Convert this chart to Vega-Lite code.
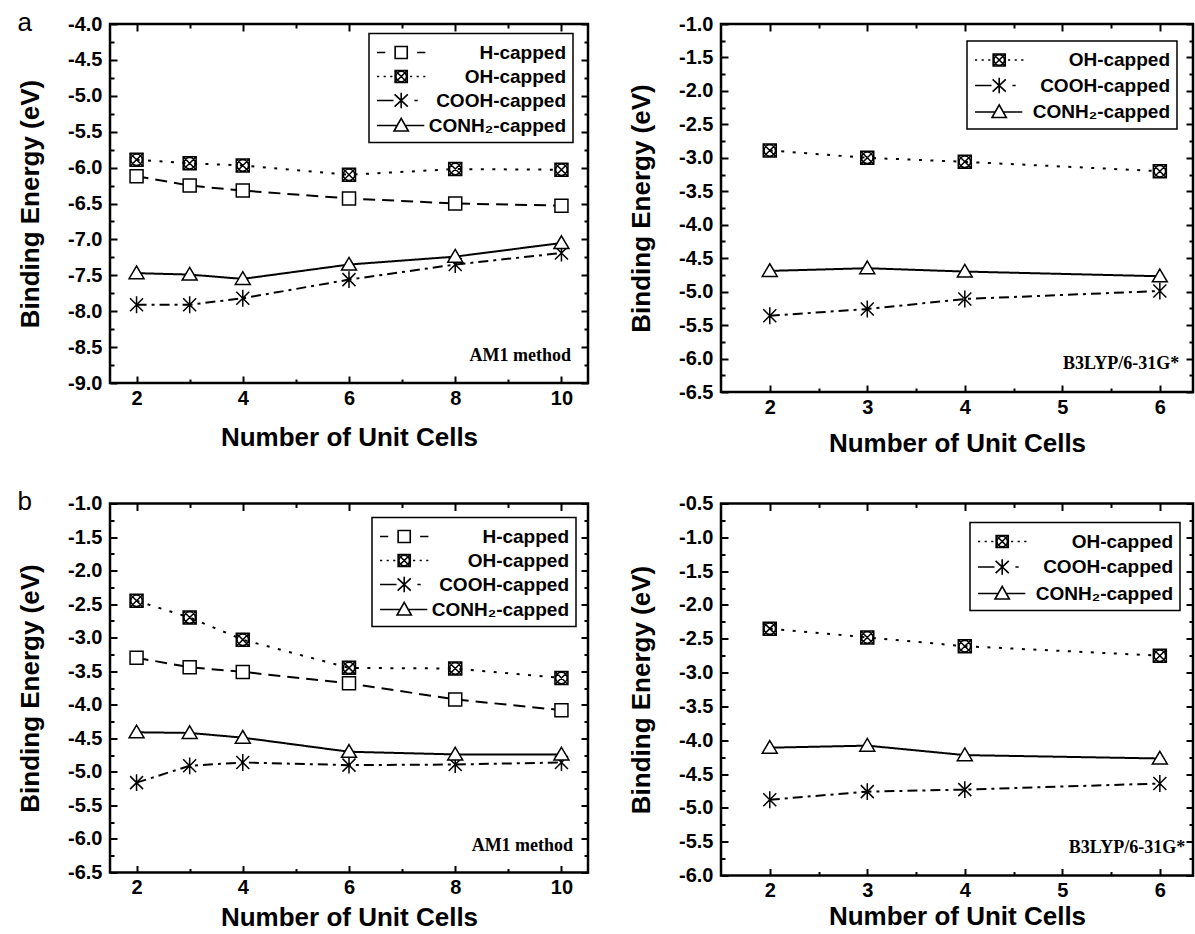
{
  "$schema": "https://vega.github.io/schema/vega-lite/v6.json",
  "background": "white",
  "padding": {"left": 16, "top": 8, "right": 0, "bottom": 0},
  "datasets": {
    "d": [
      {"panel": "a1", "series": "H-capped", "n": 2, "e": -6.12},
      {"panel": "a1", "series": "H-capped", "n": 3, "e": -6.25},
      {"panel": "a1", "series": "H-capped", "n": 4, "e": -6.32},
      {"panel": "a1", "series": "H-capped", "n": 6, "e": -6.43},
      {"panel": "a1", "series": "H-capped", "n": 8, "e": -6.50},
      {"panel": "a1", "series": "H-capped", "n": 10, "e": -6.53},
      {"panel": "a1", "series": "OH-capped", "n": 2, "e": -5.89},
      {"panel": "a1", "series": "OH-capped", "n": 3, "e": -5.94},
      {"panel": "a1", "series": "OH-capped", "n": 4, "e": -5.97},
      {"panel": "a1", "series": "OH-capped", "n": 6, "e": -6.10},
      {"panel": "a1", "series": "OH-capped", "n": 8, "e": -6.02},
      {"panel": "a1", "series": "OH-capped", "n": 10, "e": -6.03},
      {"panel": "a1", "series": "COOH-capped", "n": 2, "e": -7.91},
      {"panel": "a1", "series": "COOH-capped", "n": 3, "e": -7.91},
      {"panel": "a1", "series": "COOH-capped", "n": 4, "e": -7.82},
      {"panel": "a1", "series": "COOH-capped", "n": 6, "e": -7.56},
      {"panel": "a1", "series": "COOH-capped", "n": 8, "e": -7.35},
      {"panel": "a1", "series": "COOH-capped", "n": 10, "e": -7.19},
      {"panel": "a1", "series": "CONH₂-capped", "n": 2, "e": -7.47},
      {"panel": "a1", "series": "CONH₂-capped", "n": 3, "e": -7.49},
      {"panel": "a1", "series": "CONH₂-capped", "n": 4, "e": -7.55},
      {"panel": "a1", "series": "CONH₂-capped", "n": 6, "e": -7.35},
      {"panel": "a1", "series": "CONH₂-capped", "n": 8, "e": -7.24},
      {"panel": "a1", "series": "CONH₂-capped", "n": 10, "e": -7.05},
      {"panel": "a2", "series": "OH-capped", "n": 2, "e": -2.89},
      {"panel": "a2", "series": "OH-capped", "n": 3, "e": -3.00},
      {"panel": "a2", "series": "OH-capped", "n": 4, "e": -3.06},
      {"panel": "a2", "series": "OH-capped", "n": 6, "e": -3.20},
      {"panel": "a2", "series": "COOH-capped", "n": 2, "e": -5.36},
      {"panel": "a2", "series": "COOH-capped", "n": 3, "e": -5.26},
      {"panel": "a2", "series": "COOH-capped", "n": 4, "e": -5.11},
      {"panel": "a2", "series": "COOH-capped", "n": 6, "e": -4.99},
      {"panel": "a2", "series": "CONH₂-capped", "n": 2, "e": -4.69},
      {"panel": "a2", "series": "CONH₂-capped", "n": 3, "e": -4.65},
      {"panel": "a2", "series": "CONH₂-capped", "n": 4, "e": -4.70},
      {"panel": "a2", "series": "CONH₂-capped", "n": 6, "e": -4.77},
      {"panel": "b1", "series": "H-capped", "n": 2, "e": -3.30},
      {"panel": "b1", "series": "H-capped", "n": 3, "e": -3.44},
      {"panel": "b1", "series": "H-capped", "n": 4, "e": -3.51},
      {"panel": "b1", "series": "H-capped", "n": 6, "e": -3.68},
      {"panel": "b1", "series": "H-capped", "n": 8, "e": -3.92},
      {"panel": "b1", "series": "H-capped", "n": 10, "e": -4.08},
      {"panel": "b1", "series": "OH-capped", "n": 2, "e": -2.45},
      {"panel": "b1", "series": "OH-capped", "n": 3, "e": -2.70},
      {"panel": "b1", "series": "OH-capped", "n": 4, "e": -3.03},
      {"panel": "b1", "series": "OH-capped", "n": 6, "e": -3.45},
      {"panel": "b1", "series": "OH-capped", "n": 8, "e": -3.46},
      {"panel": "b1", "series": "OH-capped", "n": 10, "e": -3.60},
      {"panel": "b1", "series": "COOH-capped", "n": 2, "e": -5.16},
      {"panel": "b1", "series": "COOH-capped", "n": 3, "e": -4.91},
      {"panel": "b1", "series": "COOH-capped", "n": 4, "e": -4.86},
      {"panel": "b1", "series": "COOH-capped", "n": 6, "e": -4.90},
      {"panel": "b1", "series": "COOH-capped", "n": 8, "e": -4.89},
      {"panel": "b1", "series": "COOH-capped", "n": 10, "e": -4.86},
      {"panel": "b1", "series": "CONH₂-capped", "n": 2, "e": -4.41},
      {"panel": "b1", "series": "CONH₂-capped", "n": 3, "e": -4.42},
      {"panel": "b1", "series": "CONH₂-capped", "n": 4, "e": -4.49},
      {"panel": "b1", "series": "CONH₂-capped", "n": 6, "e": -4.70},
      {"panel": "b1", "series": "CONH₂-capped", "n": 8, "e": -4.74},
      {"panel": "b1", "series": "CONH₂-capped", "n": 10, "e": -4.74},
      {"panel": "b2", "series": "OH-capped", "n": 2, "e": -2.35},
      {"panel": "b2", "series": "OH-capped", "n": 3, "e": -2.48},
      {"panel": "b2", "series": "OH-capped", "n": 4, "e": -2.61},
      {"panel": "b2", "series": "OH-capped", "n": 6, "e": -2.75},
      {"panel": "b2", "series": "COOH-capped", "n": 2, "e": -4.88},
      {"panel": "b2", "series": "COOH-capped", "n": 3, "e": -4.76},
      {"panel": "b2", "series": "COOH-capped", "n": 4, "e": -4.73},
      {"panel": "b2", "series": "COOH-capped", "n": 6, "e": -4.64},
      {"panel": "b2", "series": "CONH₂-capped", "n": 2, "e": -4.11},
      {"panel": "b2", "series": "CONH₂-capped", "n": 3, "e": -4.08},
      {"panel": "b2", "series": "CONH₂-capped", "n": 4, "e": -4.22},
      {"panel": "b2", "series": "CONH₂-capped", "n": 6, "e": -4.27}
    ]
  },
  "data": {"name": "d"},
  "spacing": 29.5,
  "vconcat": [
    {
      "columns": 2,
      "align": "none",
      "spacing": 36,
      "concat": [
        {
          "width": 478, "height": 359,
          "title": {"text": "a", "anchor": "start", "frame": "bounds", "orient": "top", "offset": -26.5, "dy": 16, "baseline": "alphabetic", "fontSize": 26, "fontWeight": "normal", "font": "Liberation Sans", "color": "black"},
          "transform": [{"filter": "datum.panel == 'a1'"}],
          "layer": [
            {"mark": {"type": "line", "stroke": "black", "strokeWidth": 2},
             "encoding": {
               "x": {"field": "n", "type": "quantitative", "scale": {"domain": [1.5, 10.5], "nice": false, "zero": false},
                     "axis": {"orient": "bottom", "title": "Number of Unit Cells", "labelPadding": 12, "titlePadding": 13, "values": [2,3,4,5,6,7,8,9,10], "labelExpr": "datum.value % 2 == 0 ? datum.label : ''", "tickSize": {"condition": {"test": "datum.value % 2 == 0", "value": -7}, "value": -4}}},
               "y": {"field": "e", "type": "quantitative", "scale": {"domain": [-9, -4], "nice": false, "zero": false},
                     "axis": {"orient": "left", "title": "Binding Energy (eV)", "titlePadding": 24, "values": [-9,-8.75,-8.5,-8.25,-8,-7.75,-7.5,-7.25,-7,-6.75,-6.5,-6.25,-6,-5.75,-5.5,-5.25,-5,-4.75,-4.5,-4.25,-4], "labelExpr": "abs(datum.value*2 - round(datum.value*2)) < 0.001 ? replace(format(datum.value, '.1f'), '\u2212', '-') : ''", "tickSize": {"condition": {"test": "abs(datum.value*2 - round(datum.value*2)) < 0.001", "value": -7}, "value": -4}}},
               "strokeDash": {"field": "series", "type": "nominal", "scale": {"domain": ["H-capped", "OH-capped", "COOH-capped", "CONH₂-capped"], "range": [[12,7],[3,8.5],[10,5,3,5],[1,0]]}, "legend": null}
             }},
            {"mark": {"type": "point", "filled": true, "fill": "white", "stroke": "black", "strokeWidth": 1.5, "size": 169, "opacity": 1},
             "encoding": {
               "x": {"field": "n", "type": "quantitative", "axis": {"orient": "top", "labels": false, "title": null, "values": [2,3,4,5,6,7,8,9,10], "tickSize": {"condition": {"test": "datum.value % 2 == 0", "value": -7}, "value": -4}}},
               "y": {"field": "e", "type": "quantitative", "axis": {"orient": "right", "labels": false, "title": null, "values": [-9,-8.75,-8.5,-8.25,-8,-7.75,-7.5,-7.25,-7,-6.75,-6.5,-6.25,-6,-5.75,-5.5,-5.25,-5,-4.75,-4.5,-4.25,-4], "tickSize": {"condition": {"test": "abs(datum.value*2 - round(datum.value*2)) < 0.001", "value": -7}, "value": -4}}},
               "shape": {"field": "series", "type": "nominal", "scale": {"domain": ["H-capped", "OH-capped", "COOH-capped", "CONH₂-capped"], "range": ["M-1,-1H1V1H-1Z", "M-1,-1H1V1H-1ZM-1,-1L1,1M1,-1L-1,1M-0.88,0A0.88,0.88,0,1,0,0.88,0A0.88,0.88,0,1,0,-0.88,0", "M-1,-1L1,1M1,-1L-1,1M0,-1.3V1.3", "M0,-1.1L1.15,0.85H-1.15Z"]}, "legend": null}
             }},
            {"transform": [{"filter": "false"}],
             "mark": {"type": "point", "filled": false, "color": "black", "stroke": "black", "strokeWidth": 1.6, "size": 484, "opacity": 1},
             "encoding": {
               "x": {"field": "n", "type": "quantitative", "axis": null},
               "y": {"field": "e", "type": "quantitative", "axis": null},
               "shape": {"field": "series", "type": "nominal", "scale": {"domain": ["H-capped", "OH-capped", "COOH-capped", "CONH₂-capped"], "range": ["M-1,0H-0.25M0.65,-0.55H1.75V0.55H0.65ZM2.65,0H3.4", "M-1,0H-0.8M-0.4,0H-0.2M0.2,0H0.4M0.65,-0.55H1.75V0.55H0.65ZM0.65,-0.55L1.75,0.55M1.75,-0.55L0.65,0.55M0.72,0A0.48,0.48,0,1,0,1.68,0A0.48,0.48,0,1,0,0.72,0M2,0H2.2M2.6,0H2.8M3.2,0H3.4", "M-1,0H0.5M0.6,-0.55L1.8,0.55M1.8,-0.55L0.6,0.55M1.2,-0.7V0.7M2.4,0H2.7", "M-1,0H0.83M1.57,0H3.3M1.2,-0.65L1.85,0.5H0.55Z"]},
                         "legend": {"orient": "none", "legendX": 259, "legendY": 9.5, "title": null, "labelAlign": "right", "labelOffset": 166}}
             }},
            {"data": {"values": [{}]},
             "mark": {"type": "text", "text": "AM1 method", "font": "Liberation Serif", "fontWeight": "bold", "fontSize": 18, "align": "right", "baseline": "middle", "color": "black"},
             "encoding": {"x": {"datum": 10.18, "type": "quantitative", "axis": null}, "y": {"datum": -8.62, "type": "quantitative", "axis": null}}}
          ],
          "resolve": {"scale": {"shape": "independent"}, "axis": {"x": "independent", "y": "independent"}}
        },
        {
          "width": 472, "height": 368,
          "transform": [{"filter": "datum.panel == 'a2'"}],
          "layer": [
            {"mark": {"type": "line", "stroke": "black", "strokeWidth": 2},
             "encoding": {
               "x": {"field": "n", "type": "quantitative", "scale": {"domain": [1.5, 6.34], "nice": false, "zero": false},
                     "axis": {"orient": "bottom", "title": "Number of Unit Cells", "labelPadding": 12, "titlePadding": 10, "values": [2,2.5,3,3.5,4,4.5,5,5.5,6], "labelExpr": "datum.value % 1 == 0 ? format(datum.value, 'd') : ''", "tickSize": {"condition": {"test": "datum.value % 1 == 0", "value": -7}, "value": -4}}},
               "y": {"field": "e", "type": "quantitative", "scale": {"domain": [-6.5, -1], "nice": false, "zero": false},
                     "axis": {"orient": "left", "title": "Binding Energy (eV)", "titlePadding": 24, "values": [-6.5,-6.25,-6,-5.75,-5.5,-5.25,-5,-4.75,-4.5,-4.25,-4,-3.75,-3.5,-3.25,-3,-2.75,-2.5,-2.25,-2,-1.75,-1.5,-1.25,-1], "labelExpr": "abs(datum.value*2 - round(datum.value*2)) < 0.001 ? replace(format(datum.value, '.1f'), '\u2212', '-') : ''", "tickSize": {"condition": {"test": "abs(datum.value*2 - round(datum.value*2)) < 0.001", "value": -7}, "value": -4}}},
               "strokeDash": {"field": "series", "type": "nominal", "scale": {"domain": ["OH-capped", "COOH-capped", "CONH₂-capped"], "range": [[3,8.5],[10,5,3,5],[1,0]]}, "legend": null}
             }},
            {"mark": {"type": "point", "filled": true, "fill": "white", "stroke": "black", "strokeWidth": 1.5, "size": 169, "opacity": 1},
             "encoding": {
               "x": {"field": "n", "type": "quantitative", "axis": {"orient": "top", "labels": false, "title": null, "values": [2,2.5,3,3.5,4,4.5,5,5.5,6], "tickSize": {"condition": {"test": "datum.value % 1 == 0", "value": -7}, "value": -4}}},
               "y": {"field": "e", "type": "quantitative", "axis": {"orient": "right", "labels": false, "title": null, "values": [-6.5,-6.25,-6,-5.75,-5.5,-5.25,-5,-4.75,-4.5,-4.25,-4,-3.75,-3.5,-3.25,-3,-2.75,-2.5,-2.25,-2,-1.75,-1.5,-1.25,-1], "tickSize": {"condition": {"test": "abs(datum.value*2 - round(datum.value*2)) < 0.001", "value": -7}, "value": -4}}},
               "shape": {"field": "series", "type": "nominal", "scale": {"domain": ["OH-capped", "COOH-capped", "CONH₂-capped"], "range": ["M-1,-1H1V1H-1ZM-1,-1L1,1M1,-1L-1,1M-0.88,0A0.88,0.88,0,1,0,0.88,0A0.88,0.88,0,1,0,-0.88,0", "M-1,-1L1,1M1,-1L-1,1M0,-1.3V1.3", "M0,-1.1L1.15,0.85H-1.15Z"]}, "legend": null}
             }},
            {"transform": [{"filter": "false"}],
             "mark": {"type": "point", "filled": false, "color": "black", "stroke": "black", "strokeWidth": 1.6, "size": 484, "opacity": 1},
             "encoding": {
               "x": {"field": "n", "type": "quantitative", "axis": null},
               "y": {"field": "e", "type": "quantitative", "axis": null},
               "shape": {"field": "series", "type": "nominal", "scale": {"domain": ["OH-capped", "COOH-capped", "CONH₂-capped"], "range": ["M-1,0H-0.8M-0.4,0H-0.2M0.2,0H0.4M0.65,-0.55H1.75V0.55H0.65ZM0.65,-0.55L1.75,0.55M1.75,-0.55L0.65,0.55M0.72,0A0.48,0.48,0,1,0,1.68,0A0.48,0.48,0,1,0,0.72,0M2,0H2.2M2.6,0H2.8M3.2,0H3.4", "M-1,0H0.5M0.6,-0.55L1.8,0.55M1.8,-0.55L0.6,0.55M1.2,-0.7V0.7M2.4,0H2.7", "M-1,0H0.83M1.57,0H3.3M1.2,-0.65L1.85,0.5H0.55Z"]},
                         "legend": {"orient": "none", "legendX": 246, "legendY": 17, "rowPadding": 3.5, "title": null, "labelAlign": "right", "labelOffset": 172}}
             }},
            {"data": {"values": [{}]},
             "mark": {"type": "text", "text": "B3LYP/6-31G*", "font": "Liberation Serif", "fontWeight": "bold", "fontSize": 18, "align": "right", "baseline": "middle", "color": "black"},
             "encoding": {"x": {"datum": 6.2, "type": "quantitative", "axis": null}, "y": {"datum": -6.08, "type": "quantitative", "axis": null}}}
          ],
          "resolve": {"scale": {"shape": "independent"}, "axis": {"x": "independent", "y": "independent"}}
        }
      ]
    },
    {
      "spacing": 36,
      "hconcat": [
        {
          "width": 478, "height": 369,
          "title": {"text": "b", "anchor": "start", "frame": "bounds", "orient": "top", "offset": -26.5, "dy": 16, "baseline": "alphabetic", "fontSize": 26, "fontWeight": "normal", "font": "Liberation Sans", "color": "black"},
          "transform": [{"filter": "datum.panel == 'b1'"}],
          "layer": [
            {"mark": {"type": "line", "stroke": "black", "strokeWidth": 2},
             "encoding": {
               "x": {"field": "n", "type": "quantitative", "scale": {"domain": [1.5, 10.5], "nice": false, "zero": false},
                     "axis": {"orient": "bottom", "title": "Number of Unit Cells", "labelPadding": 12, "titlePadding": 4, "values": [2,3,4,5,6,7,8,9,10], "labelExpr": "datum.value % 2 == 0 ? datum.label : ''", "tickSize": {"condition": {"test": "datum.value % 2 == 0", "value": -7}, "value": -4}}},
               "y": {"field": "e", "type": "quantitative", "scale": {"domain": [-6.5, -1], "nice": false, "zero": false},
                     "axis": {"orient": "left", "title": "Binding Energy (eV)", "titlePadding": 24, "values": [-6.5,-6.25,-6,-5.75,-5.5,-5.25,-5,-4.75,-4.5,-4.25,-4,-3.75,-3.5,-3.25,-3,-2.75,-2.5,-2.25,-2,-1.75,-1.5,-1.25,-1], "labelExpr": "abs(datum.value*2 - round(datum.value*2)) < 0.001 ? replace(format(datum.value, '.1f'), '\u2212', '-') : ''", "tickSize": {"condition": {"test": "abs(datum.value*2 - round(datum.value*2)) < 0.001", "value": -7}, "value": -4}}},
               "strokeDash": {"field": "series", "type": "nominal", "scale": {"domain": ["H-capped", "OH-capped", "COOH-capped", "CONH₂-capped"], "range": [[12,7],[3,8.5],[10,5,3,5],[1,0]]}, "legend": null}
             }},
            {"mark": {"type": "point", "filled": true, "fill": "white", "stroke": "black", "strokeWidth": 1.5, "size": 169, "opacity": 1},
             "encoding": {
               "x": {"field": "n", "type": "quantitative", "axis": {"orient": "top", "labels": false, "title": null, "values": [2,3,4,5,6,7,8,9,10], "tickSize": {"condition": {"test": "datum.value % 2 == 0", "value": -7}, "value": -4}}},
               "y": {"field": "e", "type": "quantitative", "axis": {"orient": "right", "labels": false, "title": null, "values": [-6.5,-6.25,-6,-5.75,-5.5,-5.25,-5,-4.75,-4.5,-4.25,-4,-3.75,-3.5,-3.25,-3,-2.75,-2.5,-2.25,-2,-1.75,-1.5,-1.25,-1], "tickSize": {"condition": {"test": "abs(datum.value*2 - round(datum.value*2)) < 0.001", "value": -7}, "value": -4}}},
               "shape": {"field": "series", "type": "nominal", "scale": {"domain": ["H-capped", "OH-capped", "COOH-capped", "CONH₂-capped"], "range": ["M-1,-1H1V1H-1Z", "M-1,-1H1V1H-1ZM-1,-1L1,1M1,-1L-1,1M-0.88,0A0.88,0.88,0,1,0,0.88,0A0.88,0.88,0,1,0,-0.88,0", "M-1,-1L1,1M1,-1L-1,1M0,-1.3V1.3", "M0,-1.1L1.15,0.85H-1.15Z"]}, "legend": null}
             }},
            {"transform": [{"filter": "false"}],
             "mark": {"type": "point", "filled": false, "color": "black", "stroke": "black", "strokeWidth": 1.6, "size": 484, "opacity": 1},
             "encoding": {
               "x": {"field": "n", "type": "quantitative", "axis": null},
               "y": {"field": "e", "type": "quantitative", "axis": null},
               "shape": {"field": "series", "type": "nominal", "scale": {"domain": ["H-capped", "OH-capped", "COOH-capped", "CONH₂-capped"], "range": ["M-1,0H-0.25M0.65,-0.55H1.75V0.55H0.65ZM2.65,0H3.4", "M-1,0H-0.8M-0.4,0H-0.2M0.2,0H0.4M0.65,-0.55H1.75V0.55H0.65ZM0.65,-0.55L1.75,0.55M1.75,-0.55L0.65,0.55M0.72,0A0.48,0.48,0,1,0,1.68,0A0.48,0.48,0,1,0,0.72,0M2,0H2.2M2.6,0H2.8M3.2,0H3.4", "M-1,0H0.5M0.6,-0.55L1.8,0.55M1.8,-0.55L0.6,0.55M1.2,-0.7V0.7M2.4,0H2.7", "M-1,0H0.83M1.57,0H3.3M1.2,-0.65L1.85,0.5H0.55Z"]},
                         "legend": {"orient": "none", "legendX": 262, "legendY": 14, "title": null, "labelAlign": "right", "labelOffset": 166}}
             }},
            {"data": {"values": [{}]},
             "mark": {"type": "text", "text": "AM1 method", "font": "Liberation Serif", "fontWeight": "bold", "fontSize": 18, "align": "right", "baseline": "middle", "color": "black"},
             "encoding": {"x": {"datum": 10.22, "type": "quantitative", "axis": null}, "y": {"datum": -6.11, "type": "quantitative", "axis": null}}}
          ],
          "resolve": {"scale": {"shape": "independent"}, "axis": {"x": "independent", "y": "independent"}}
        },
        {
          "width": 472, "height": 372,
          "transform": [{"filter": "datum.panel == 'b2'"}],
          "layer": [
            {"mark": {"type": "line", "stroke": "black", "strokeWidth": 2},
             "encoding": {
               "x": {"field": "n", "type": "quantitative", "scale": {"domain": [1.5, 6.34], "nice": false, "zero": false},
                     "axis": {"orient": "bottom", "title": "Number of Unit Cells", "labelPadding": 12, "titlePadding": 0, "values": [2,2.5,3,3.5,4,4.5,5,5.5,6], "labelExpr": "datum.value % 1 == 0 ? format(datum.value, 'd') : ''", "tickSize": {"condition": {"test": "datum.value % 1 == 0", "value": -7}, "value": -4}}},
               "y": {"field": "e", "type": "quantitative", "scale": {"domain": [-6, -0.5], "nice": false, "zero": false},
                     "axis": {"orient": "left", "title": "Binding Energy (eV)", "titlePadding": 24, "values": [-6,-5.75,-5.5,-5.25,-5,-4.75,-4.5,-4.25,-4,-3.75,-3.5,-3.25,-3,-2.75,-2.5,-2.25,-2,-1.75,-1.5,-1.25,-1,-0.75,-0.5], "labelExpr": "abs(datum.value*2 - round(datum.value*2)) < 0.001 ? replace(format(datum.value, '.1f'), '\u2212', '-') : ''", "tickSize": {"condition": {"test": "abs(datum.value*2 - round(datum.value*2)) < 0.001", "value": -7}, "value": -4}}},
               "strokeDash": {"field": "series", "type": "nominal", "scale": {"domain": ["OH-capped", "COOH-capped", "CONH₂-capped"], "range": [[3,8.5],[10,5,3,5],[1,0]]}, "legend": null}
             }},
            {"mark": {"type": "point", "filled": true, "fill": "white", "stroke": "black", "strokeWidth": 1.5, "size": 169, "opacity": 1},
             "encoding": {
               "x": {"field": "n", "type": "quantitative", "axis": {"orient": "top", "labels": false, "title": null, "values": [2,2.5,3,3.5,4,4.5,5,5.5,6], "tickSize": {"condition": {"test": "datum.value % 1 == 0", "value": -7}, "value": -4}}},
               "y": {"field": "e", "type": "quantitative", "axis": {"orient": "right", "labels": false, "title": null, "values": [-6,-5.75,-5.5,-5.25,-5,-4.75,-4.5,-4.25,-4,-3.75,-3.5,-3.25,-3,-2.75,-2.5,-2.25,-2,-1.75,-1.5,-1.25,-1,-0.75,-0.5], "tickSize": {"condition": {"test": "abs(datum.value*2 - round(datum.value*2)) < 0.001", "value": -7}, "value": -4}}},
               "shape": {"field": "series", "type": "nominal", "scale": {"domain": ["OH-capped", "COOH-capped", "CONH₂-capped"], "range": ["M-1,-1H1V1H-1ZM-1,-1L1,1M1,-1L-1,1M-0.88,0A0.88,0.88,0,1,0,0.88,0A0.88,0.88,0,1,0,-0.88,0", "M-1,-1L1,1M1,-1L-1,1M0,-1.3V1.3", "M0,-1.1L1.15,0.85H-1.15Z"]}, "legend": null}
             }},
            {"transform": [{"filter": "false"}],
             "mark": {"type": "point", "filled": false, "color": "black", "stroke": "black", "strokeWidth": 1.6, "size": 484, "opacity": 1},
             "encoding": {
               "x": {"field": "n", "type": "quantitative", "axis": null},
               "y": {"field": "e", "type": "quantitative", "axis": null},
               "shape": {"field": "series", "type": "nominal", "scale": {"domain": ["OH-capped", "COOH-capped", "CONH₂-capped"], "range": ["M-1,0H-0.8M-0.4,0H-0.2M0.2,0H0.4M0.65,-0.55H1.75V0.55H0.65ZM0.65,-0.55L1.75,0.55M1.75,-0.55L0.65,0.55M0.72,0A0.48,0.48,0,1,0,1.68,0A0.48,0.48,0,1,0,0.72,0M2,0H2.2M2.6,0H2.8M3.2,0H3.4", "M-1,0H0.5M0.6,-0.55L1.8,0.55M1.8,-0.55L0.6,0.55M1.2,-0.7V0.7M2.4,0H2.7", "M-1,0H0.83M1.57,0H3.3M1.2,-0.65L1.85,0.5H0.55Z"]},
                         "legend": {"orient": "none", "legendX": 249, "legendY": 19, "rowPadding": 3.5, "title": null, "labelAlign": "right", "labelOffset": 172}}
             }},
            {"data": {"values": [{}]},
             "mark": {"type": "text", "text": "B3LYP/6-31G*", "font": "Liberation Serif", "fontWeight": "bold", "fontSize": 18, "align": "right", "baseline": "middle", "color": "black"},
             "encoding": {"x": {"datum": 6.26, "type": "quantitative", "axis": null}, "y": {"datum": -5.59, "type": "quantitative", "axis": null}}}
          ],
          "resolve": {"scale": {"shape": "independent"}, "axis": {"x": "independent", "y": "independent"}}
        }
      ]
    }
  ],
  "config": {
    "font": "Liberation Sans",
    "view": {"stroke": "black", "strokeWidth": 2.5},
    "axis": {
      "domain": false, "grid": false,
      "tickColor": "black", "tickWidth": 2,
      "labelFont": "Liberation Sans", "labelFontSize": 20, "labelFontWeight": "bold", "labelColor": "black",
      "labelPadding": 15, "labelFlush": false, "labelOverlap": false,
      "titleFont": "Liberation Sans", "titleFontSize": 26, "titleFontWeight": "bold", "titleColor": "black",
      "titlePadding": 12
    },
    "legend": {
      "fillColor": "white", "strokeColor": "black", "strokeWidth": 1.5, "padding": 7,
      "labelFont": "Liberation Sans", "labelFontSize": 19, "labelFontWeight": "bold", "labelColor": "black",
      "labelLimit": 300, "rowPadding": 2,
      "symbolSize": 484, "symbolStrokeWidth": 1.6, "symbolStrokeColor": "black", "symbolFillColor": "white"
    }
  }
}
